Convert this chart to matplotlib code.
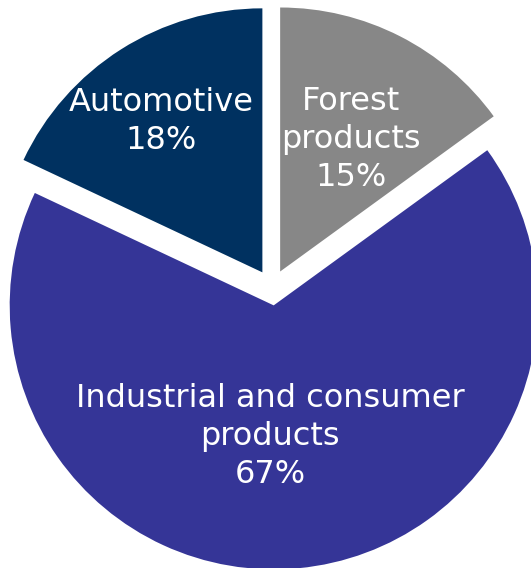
import matplotlib.pyplot as plt

segments = ["Forest\nproducts", "Industrial and consumer\nproducts", "Automotive"]
shares = [15, 67, 18]
colors = ["#878787", "#353597", "#003160"]

# label anchor points (data units, pie radius = 1)
label_xy = [(0.299, 0.560), (-0.008, -0.565), (-0.419, 0.628)]

fig = plt.figure(figsize=(5.31, 5.68), dpi=100)
ax = fig.add_axes([0, 0, 1, 1])

wedges, _ = ax.pie(shares, colors=colors, startangle=90, counterclock=False,
                   explode=[0.068] * len(shares), radius=1.0,
                   wedgeprops=dict(linewidth=0))

for name, pct, (x, y) in zip(segments, shares, label_xy):
    ax.text(x, y, f"{name}\n{pct}%", color="white", fontsize=23,
            family="DejaVu Sans", ha="center", va="center",
            multialignment="center", linespacing=1.3)

# the pie runs off the right and bottom edges
ax.set_xlim(-272 / 264, (531 - 272) / 264)
ax.set_ylim(-(568 - 287.5) / 264, 287.5 / 264)
ax.set_aspect("auto")
ax.axis("off")

plt.savefig("out.png", dpi=100)
